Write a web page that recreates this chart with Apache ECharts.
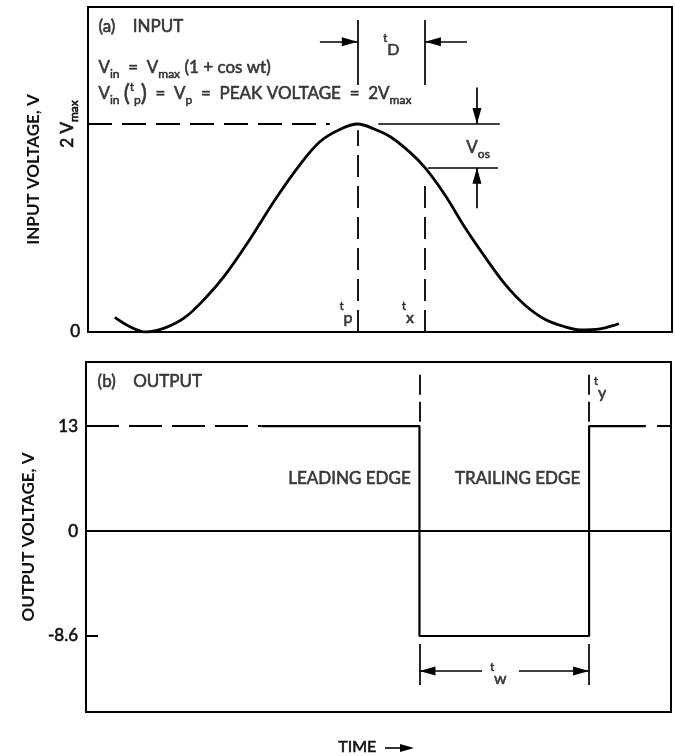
<!DOCTYPE html>
<html>
<head>
<meta charset="utf-8">
<script src="https://cdn.jsdelivr.net/npm/echarts@6/dist/echarts.min.js"></script>
<style>
  html, body { margin: 0; padding: 0; background: #fff; }
  #chart { width: 675px; height: 756px; }
</style>
</head>
<body>
<div id="chart"></div>
<script>
// ---------- input waveform: Vin in units of Vmax, time in arbitrary units ----------
const inputTime  = [4.6, 7.2, 9.9, 13.2, 16.6, 20.0, 23.5, 27.7, 32.0, 36.3, 39.7, 43.2, 46.2,
                    49.1, 51.7, 55.1, 57.7, 61.1, 64.6, 68.0, 71.4, 74.8, 78.3, 81.7, 84.2, 87.7, 90.9];
const inputVolts = [0.14, 0.05, 0.0, 0.04, 0.14, 0.32, 0.55, 0.89, 1.27, 1.61, 1.83, 1.95, 2.0,
                    1.95, 1.88, 1.73, 1.58, 1.32, 1.0, 0.72, 0.46, 0.26, 0.12, 0.05, 0.02, 0.03, 0.08];
const peakTime  = 46.2;   // t_p
const crossTime = 57.7;   // t_x
const peakLevel = 2;      // 2 Vmax
const crossLevel = 1.58;  // Vin(t_x)

// ---------- output waveform ----------
const outputLevels = [-8.6, 0, 13];                 // labelled output levels, V
const outputTime   = [0, 30, 57.0, 57.0, 86.0, 86.0, 95.7];
const outputVolts  = [13, 13, 13, -8.6, -8.6, 13, 13];
const tailTime     = [97.6, 100];
const leadEdge  = 57.0;
const trailEdge = 86.0;

// The output axis is schematic: each labelled level gets its own evenly spaced slot.
const lvl = v => outputLevels.indexOf(v);

const F = 'Lato, "Noto Sans", sans-serif';
const INK = '#111';
// a thin outline in the ink colour gives the lettering a heavier, printed weight
const heavy = { textBorderColor: INK, textBorderWidth: 0.6 };

const rich = {
  s: Object.assign({ fontSize: 12, padding: [13, 0, 0, 0] }, heavy),   // subscript
  t: Object.assign({ fontSize: 11, padding: [0, 0, 13, 0] }, heavy),   // small raised "t"
  l: Object.assign({ fontSize: 16, padding: [10, 0, 0, 0] }, heavy),   // index letter under the "t"
  p: Object.assign({ fontSize: 23 }, heavy)                             // tall parentheses
};

function seg(a, b, style, arrow) {
  const from = { coord: a, symbol: 'none' };
  const to = arrow
    ? { coord: b, symbol: 'triangle', symbolSize: [9, 16], symbolOffset: [0, '50%'] }
    : { coord: b, symbol: 'none' };
  if (style) from.lineStyle = style;
  return [from, to];
}
const dashTop = { type: [24, 10], width: 1.8 };

function note(x, y, text, position) {
  return { value: [x, y], label: { formatter: text, position: position || 'right' } };
}

const noteSeries = (gi, data) => ({
  type: 'scatter', xAxisIndex: gi, yAxisIndex: gi === 0 ? 0 : 2, silent: true,
  symbol: 'circle', symbolSize: 1, itemStyle: { color: 'rgba(0,0,0,0)' },
  label: Object.assign({ show: true, distance: 0, color: INK, fontFamily: F, fontSize: 17, rich }, heavy),
  data
});

const curve = inputTime.map((t, i) => [t, inputVolts[i]]);
const out = outputTime.map((t, i) => [t, lvl(outputVolts[i])]);

const tickFont = Object.assign({ fontFamily: F, fontSize: 17, color: INK }, heavy);
const titleFont = { fontFamily: F, fontSize: 17, fontWeight: 'bold', color: INK };

const option = {
  animation: false,
  backgroundColor: '#fff',
  textStyle: { fontFamily: F, color: INK },
  grid: [
    { left: 88, right: 3, top: 7, height: 325, show: true, borderColor: '#000', borderWidth: 2,
      outerBoundsMode: 'none' },
    { left: 86, right: 4, top: 362, height: 350, show: true, borderColor: '#000', borderWidth: 2,
      outerBoundsMode: 'none' }
  ],
  xAxis: [
    { gridIndex: 0, type: 'value', min: 0, max: 100, show: false },
    { gridIndex: 1, type: 'value', min: 0, max: 100, show: false }
  ],
  yAxis: [
    {
      gridIndex: 0, type: 'value', min: 0, max: 3.125, position: 'left',
      name: 'INPUT VOLTAGE, V', nameLocation: 'middle', nameGap: 46, nameTextStyle: titleFont,
      axisLine: { show: false }, axisTick: { show: false }, splitLine: { show: false },
      axisLabel: Object.assign({ customValues: [0], formatter: () => '0', margin: 8 }, tickFont)
    },
    {
      gridIndex: 0, type: 'value', min: 0, max: 3.125, position: 'left', offset: 0,
      axisLine: { show: false }, axisTick: { show: false }, splitLine: { show: false },
      axisLabel: Object.assign({
        customValues: [peakLevel], rotate: 90, margin: 8,
        formatter: () => '2 V{s|max}',
        rich: { s: Object.assign({ fontSize: 12, padding: [13, 0, 0, 0] }, heavy) }
      }, tickFont)
    },
    {
      gridIndex: 1, type: 'value', min: -0.724, max: 2.61, position: 'left',
      name: 'OUTPUT VOLTAGE, V', nameLocation: 'middle', nameGap: 46, nameTextStyle: titleFont,
      axisLine: { show: false }, splitLine: { show: false },
      axisTick: { show: true, inside: true, length: 12, customValues: [lvl(-8.6), lvl(13)],
                  lineStyle: { color: '#000', width: 2 } },
      axisLabel: Object.assign({ customValues: outputLevels.map(lvl),
                   formatter: v => String(outputLevels[Math.round(v)]), margin: 8 }, tickFont)
    }
  ],
  series: [
    {
      type: 'line', xAxisIndex: 0, yAxisIndex: 0, data: curve, smooth: 0.35,
      showSymbol: false, symbol: 'none', silent: true,
      lineStyle: { color: '#000', width: 2.8 },
      markLine: {
        silent: true, animation: false, symbol: 'none', label: { show: false },
        lineStyle: { color: '#000', width: 1.7, type: 'solid' },
        emphasis: { disabled: true },
        data: [
          seg([0, peakLevel], [41.4, peakLevel], dashTop),
          seg([49.7, peakLevel], [70.5, peakLevel]),
          seg([peakTime, 0], [peakTime, 1.94], { type: [22, 9], width: 1.8 }),
          seg([crossTime, 0], [crossTime, 1.43], { type: [22, 9], width: 1.8 }),
          seg([peakTime, 3.0], [peakTime, 2.375]),
          seg([crossTime, 3.0], [crossTime, 2.375]),
          seg([39.7, 2.79], [peakTime, 2.79], null, true),
          seg([64.9, 2.79], [crossTime, 2.79], null, true),
          seg([66.6, 2.35], [66.6, peakLevel], null, true),
          seg([66.6, 1.19], [66.6, crossLevel], null, true),
          seg([58.2, crossLevel], [70.2, crossLevel])
        ]
      }
    },
    noteSeries(0, [
      note(1.7, 2.94, '(a)    INPUT'),
      note(1.7, 2.54, 'V{s|in}  =  V{s|max} (1 + cos wt)'),
      note(1.7, 2.29, 'V{s|in} {p|(}{t|t}{s|p}{p|)}  =  V{s|p}  =  PEAK VOLTAGE  =  2V{s|max}'),
      note((peakTime + crossTime) / 2, 2.76, '{t|t}{l|D}', 'inside'),
      note(66.8, 1.77, 'V{s|os}', 'inside'),
      note(44.2, 0.18, '{t|t}{l|p}', 'inside'),
      note(54.8, 0.18, '{t|t}{l|x}', 'inside')
    ]),
    {
      type: 'line', xAxisIndex: 1, yAxisIndex: 2, data: out.slice(0, 2),
      showSymbol: false, symbol: 'none', silent: true,
      lineStyle: { color: '#000', width: 2, type: [33, 10] }
    },
    {
      type: 'line', xAxisIndex: 1, yAxisIndex: 2, data: out.slice(1),
      showSymbol: false, symbol: 'none', silent: true,
      lineStyle: { color: '#000', width: 2.2 },
      markLine: {
        silent: true, animation: false, symbol: 'none', label: { show: false },
        lineStyle: { color: '#000', width: 1.7, type: 'solid' },
        emphasis: { disabled: true },
        data: [
          seg([0, lvl(0)], [100, lvl(0)], { width: 2 }),
          seg([leadEdge, 2.04], [leadEdge, 2.51], { type: [20, 7], width: 1.8 }),
          seg([trailEdge, 2.04], [trailEdge, 2.51], { type: [20, 7], width: 1.8 }),
          seg([leadEdge, -0.076], [leadEdge, -0.467]),
          seg([trailEdge, -0.076], [trailEdge, -0.467]),
          seg([67.7, -0.333], [leadEdge, -0.333], null, true),
          seg([74.0, -0.333], [trailEdge, -0.333], null, true)
        ]
      }
    },
    {
      type: 'line', xAxisIndex: 1, yAxisIndex: 2, data: tailTime.map(t => [t, lvl(13)]),
      showSymbol: false, symbol: 'none', silent: true,
      lineStyle: { color: '#000', width: 2 }
    },
    noteSeries(1, [
      note(1.9, 2.42, '(b)    OUTPUT'),
      note(55.6, 1.50, 'LEADING EDGE', 'left'),
      note(63.0, 1.50, 'TRAILING EDGE', 'right'),
      note(87.9, 2.36, '{t|t}{l|y}', 'inside'),
      note(70.5, -0.36, '{t|t}{l|w}', 'inside')
    ])
  ],
  graphic: [
    { type: 'text', left: 338, top: 739,
      style: { text: 'TIME', font: '16px Lato', fill: INK, stroke: INK, lineWidth: 0.6 } },
    { type: 'line', shape: { x1: 385, y1: 748, x2: 404, y2: 748 }, style: { stroke: '#000', lineWidth: 1.6 } },
    { type: 'polygon', shape: { points: [[400, 744], [414, 748], [400, 752]] }, style: { fill: '#000' } }
  ]
};

const chart = echarts.init(document.getElementById('chart'), null, { renderer: 'canvas' });
chart.setOption(option);
</script>
</body>
</html>
